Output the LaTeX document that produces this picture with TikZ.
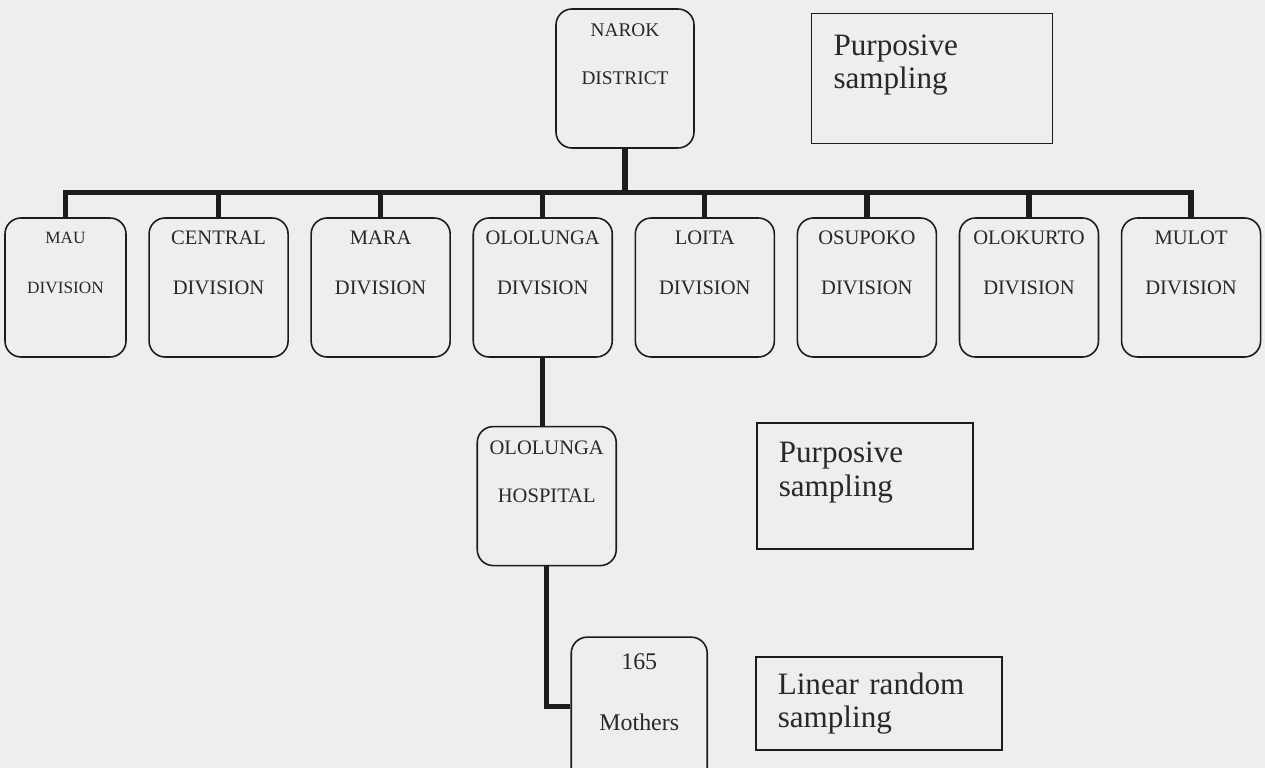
\documentclass[tikz,border=0pt]{standalone}
\usepackage{fontspec}
\setmainfont{Liberation Serif}
\usetikzlibrary{positioning}
\definecolor{linec}{RGB}{28,28,28}
\definecolor{paperc}{RGB}{238,238,238}
\definecolor{inkc}{RGB}{40,40,40}
\tikzset{
  unit/.style     = {draw=linec, line width=0.9pt, rounded corners=0.32cm,
                     align=center, text=inkc, inner sep=0pt},
  division/.style = {unit, minimum width=2.78cm, minimum height=2.78cm,
                     font=\fontsize{11.7}{28.4}\selectfont},
  method/.style   = {draw=linec, line width=0.9pt, align=left, inner xsep=0.44cm,
                     inner ysep=0pt, text=inkc, font=\fontsize{17.7}{19}\selectfont},
  link/.style     = {draw=linec, line width=3pt},
}
\begin{document}
\begin{tikzpicture}[node distance=0.43cm]

\useasboundingbox (0,0) rectangle (25.3,-15.36);
\clip (0,0) rectangle (25.3,-15.36);
\fill[paperc] (0,0) rectangle (25.3,-15.36);

\node[unit, minimum width=2.76cm, minimum height=2.78cm, font=\fontsize{11}{27.3}\selectfont]
  (narok) at (12.5,-1.57) {NAROK\\DISTRICT\\\mbox{}};
\node[method, text width=3.94cm, minimum height=2.6cm, right=2.32cm of narok]
  (purp1) {Purposive\\sampling\\\mbox{}};

\node[division, minimum width=2.42cm, font=\fontsize{9.8}{28.4}\selectfont]
  (mau) at (1.31,-5.75) {MAU\\DIVISION\\\mbox{}};
\node[division, right=of mau] (central) {CENTRAL\\DIVISION\\\mbox{}};
\node[division, right=of central] (mara) {MARA\\DIVISION\\\mbox{}};
\node[division, right=of mara] (ololunga) {OLOLUNGA\\DIVISION\\\mbox{}};
\node[division, right=of ololunga] (loita) {LOITA\\DIVISION\\\mbox{}};
\node[division, right=of loita] (osupoko) {OSUPOKO\\DIVISION\\\mbox{}};
\node[division, right=of osupoko] (olokurto) {OLOKURTO\\DIVISION\\\mbox{}};
\node[division, right=of olokurto] (mulot) {MULOT\\DIVISION\\\mbox{}};

\node[division, font=\fontsize{11.7}{27.3}\selectfont, below=1.36cm of ololunga, xshift=0.08cm]
  (hospital) {OLOLUNGA\\HOSPITAL\\\mbox{}};
\node[method, text width=3.44cm, minimum height=2.52cm, right=2.78cm of hospital, yshift=0.2cm]
  (purp2) {Purposive\\sampling\\\mbox{}};

\node[unit, minimum width=2.72cm, minimum height=3.4cm, font=\fontsize{13.6}{34.7}\selectfont,
  below=1.4cm of hospital, xshift=1.85cm] (mothers) {165\\Mothers\\\mbox{}};
\node[method, text width=4.04cm, minimum height=1.86cm, right=0.94cm of mothers, yshift=0.37cm]
  (linear) {Linear random\\sampling};

\coordinate (bar) at (0,-3.85);
\draw[link] (narok.south) -- (narok.south |- bar);
\draw[link] (mau.north) |- (mulot.north |- bar) -- (mulot.north);
\foreach \d in {central,mara,ololunga,loita,osupoko,olokurto}
  \draw[link] (\d.north) -- (\d.north |- bar);
\draw[link] (ololunga.south) -- (ololunga.south |- hospital.north);
\draw[link] (hospital.south) |- ([yshift=0.32cm]mothers.west);

\end{tikzpicture}
\end{document}
